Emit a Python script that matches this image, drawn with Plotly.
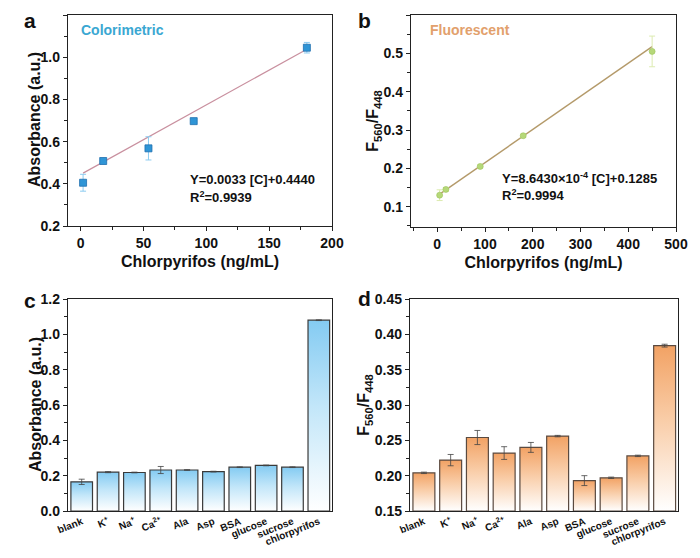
import plotly.graph_objects as go

# ---- data ----
conc_a = [2, 18, 54, 90, 180]
abs_a = [0.405, 0.508, 0.568, 0.697, 1.045]
err_a = [0.040, 0.008, 0.055, 0.006, 0.025]
slope_a, icpt_a = 0.0033, 0.4440

conc_b = [5, 18, 90, 180, 450]
ratio_b = [0.130, 0.145, 0.205, 0.285, 0.505]
err_b = [0.014, 0.005, 0.004, 0.004, 0.040]
slope_b, icpt_b = 8.6430e-4, 0.1285

cats = ["blank", "K<sup>+</sup>", "Na<sup>+</sup>", "Ca<sup>2+</sup>", "Ala", "Asp",
        "BSA", "glucose", "sucrose", "chlorpyrifos"]
abs_c = [0.165, 0.220, 0.218, 0.232, 0.232, 0.223, 0.248, 0.258, 0.248, 1.080]
err_c = [0.015, 0.003, 0.002, 0.020, 0.002, 0.002, 0.002, 0.002, 0.002, 0.002]
ratio_d = [0.204, 0.222, 0.254, 0.232, 0.240, 0.256, 0.193, 0.197, 0.228, 0.384]
err_d = [0.001, 0.008, 0.010, 0.009, 0.007, 0.001, 0.007, 0.001, 0.001, 0.002]

FONT = "Arial, Liberation Sans, sans-serif"
OFF = 8                      # default page body margin
W, H = 700 - 2 * OFF, 558 - 2 * OFF

def dom_x(a, b):
    return [(a - OFF) / W, (b - OFF) / W]

def dom_y(top, bot):
    return [1 - (bot - OFF) / H, 1 - (top - OFF) / H]

fig = go.Figure()

# ---- panel a ----
fig.add_trace(go.Scatter(x=[conc_a[0], conc_a[-1]],
                         y=[slope_a * conc_a[0] + icpt_a, slope_a * conc_a[-1] + icpt_a],
                         mode="lines", line=dict(color="#c9909f", width=1.2),
                         xaxis="x", yaxis="y", showlegend=False))
fig.add_trace(go.Scatter(x=conc_a, y=abs_a, mode="markers",
                         marker=dict(symbol="square", size=7, color="#2f95d6",
                                     line=dict(color="#1f6fae", width=0.8)),
                         error_y=dict(type="data", array=err_a, color="#8ccbf0",
                                      thickness=1, width=3),
                         xaxis="x", yaxis="y", showlegend=False))

# ---- panel b ----
fig.add_trace(go.Scatter(x=[conc_b[0], conc_b[-1]],
                         y=[slope_b * conc_b[0] + icpt_b, slope_b * conc_b[-1] + icpt_b],
                         mode="lines", line=dict(color="#b49a6a", width=1.4),
                         xaxis="x2", yaxis="y2", showlegend=False))
fig.add_trace(go.Scatter(x=conc_b, y=ratio_b, mode="markers",
                         marker=dict(symbol="circle", size=6, color="#b6d879",
                                     line=dict(color="#9cc45a", width=0.6)),
                         error_y=dict(type="data", array=err_b, color="#dcebb0",
                                      thickness=1, width=3),
                         xaxis="x2", yaxis="y2", showlegend=False))

# ---- bars (c, d) with vertical gradients ----
HW = 0.41

def add_bars(vals, errs, base, top_color, xa, ya, edge):
    for i, v in enumerate(vals):
        fig.add_trace(go.Scatter(
            x=[i - HW, i + HW, i + HW, i - HW, i - HW],
            y=[base, base, v, v, base],
            mode="lines", fill="toself",
            line=dict(color=edge, width=1.2),
            fillgradient=dict(type="vertical",
                              colorscale=[[0, "rgba(255,255,255,1)"], [0.55, top_color[1]], [1, top_color[0]]],
                              start=base, stop=v),
            xaxis=xa, yaxis=ya, showlegend=False, hoverinfo="skip"))
    fig.add_trace(go.Scatter(x=list(range(len(vals))), y=vals, mode="markers",
                             marker=dict(size=1, color="rgba(0,0,0,0)"),
                             error_y=dict(type="data", array=errs, color="#444444",
                                          thickness=0.8, width=3),
                             xaxis=xa, yaxis=ya, showlegend=False))

add_bars(abs_c, err_c, 0.0, ("#84cbf2", "#c2e6f9"), "x3", "y3", "#3a3a3a")
add_bars(ratio_d, err_d, 0.15, ("#f2a264", "#f9cda8"), "x4", "y4", "#5a4a40")

axis_common = dict(showline=True, linecolor="#222222", linewidth=1.3, mirror=True,
                   showgrid=False, zeroline=False, automargin=False,
                   tickfont=dict(family=FONT, size=14, color="#111111", weight="bold"),
                   ticks="outside", ticklen=4, tickwidth=1, tickcolor="#222222")
title_font = dict(family=FONT, size=16, color="#111111", weight="bold")

def xt(text, standoff=6):
    return dict(text=text, font=title_font, standoff=standoff)

minor_c = dict(ticks="outside", ticklen=2.5, tickcolor="#222222")
cat_font = dict(family=FONT, size=10, color="#111111", weight="bold")
ratio_title = "F<sub>560</sub>/F<sub>448</sub>"

layout = dict(
    width=W, height=H, margin=dict(l=0, r=0, t=0, b=0),
    plot_bgcolor="white", paper_bgcolor="white", showlegend=False,
    xaxis=dict(**axis_common, domain=dom_x(68, 332), anchor="y", range=[-10, 200],
               dtick=50, tick0=0, minor=dict(dtick=25, **minor_c),
               title=xt("Chlorpyrifos (ng/mL)", 5)),
    yaxis=dict(**axis_common, domain=dom_y(15, 226), anchor="x", range=[0.2, 1.2],
               dtick=0.2, tick0=0.2, tickformat=".1f",
               minor=dict(dtick=0.1, **minor_c)),
    xaxis2=dict(**axis_common, domain=dom_x(411, 676), anchor="y2", range=[-55, 500],
                dtick=100, tick0=0, minor=dict(dtick=50, **minor_c),
                title=xt("Chlorpyrifos (ng/mL)", 5)),
    yaxis2=dict(**axis_common, domain=dom_y(15, 227), anchor="x2", range=[0.047, 0.6],
                dtick=0.1, tick0=0.1, tickformat=".1f",
                minor=dict(dtick=0.05, **minor_c),
                title=xt(ratio_title, 0)),
    xaxis3=dict(**{**axis_common, "ticks": "", "tickfont": cat_font},
                domain=dom_x(68, 332), anchor="y3", range=[-0.52, 9.5],
                tickvals=list(range(len(cats))), ticktext=cats, tickangle=-22),
    yaxis3=dict(**axis_common, domain=dom_y(299, 511), anchor="x3", range=[0, 1.2],
                dtick=0.2, tick0=0, tickformat=".1f",
                minor=dict(dtick=0.1, **minor_c)),
    xaxis4=dict(**{**axis_common, "ticks": "", "tickfont": cat_font},
                domain=dom_x(410, 678), anchor="y4", range=[-0.52, 9.5],
                tickvals=list(range(len(cats))), ticktext=cats, tickangle=-22),
    yaxis4=dict(**axis_common, domain=dom_y(299, 511), anchor="x4", range=[0.15, 0.45],
                dtick=0.05, tick0=0.15, tickformat=".2f",
                minor=dict(dtick=0.025, **minor_c),
                title=xt(ratio_title, 0)),
)
fig.update_layout(**layout)

def ann(x, y, text, size=13, color="#111111", xanchor="left", angle=0):
    fig.add_annotation(x=(x - OFF) / W, y=1 - (y - OFF) / H, xref="paper", yref="paper", text=text,
                       showarrow=False, xanchor=xanchor, yanchor="middle", align="left",
                       textangle=angle,
                       font=dict(family=FONT, size=size, color=color, weight="bold"))

# y-axis titles (absorbance)
ann(35, 120, "Absorbance (a.u.)", size=16, xanchor="center", angle=-90)
ann(35, 405, "Absorbance (a.u.)", size=16, xanchor="center", angle=-90)

# panel letters
ann(22, 20, "a", size=21)
ann(356, 20, "b", size=21)
ann(22, 300, "c", size=21)
ann(356, 298, "d", size=21)

# labels inside panels
ann(79, 30, "Colorimetric", size=14, color="#3aa7d2")
ann(428, 30, "Fluorescent", size=14, color="#e2a06c")
ann(188, 180, "Y=0.0033 [C]+0.4440", size=13)
ann(188, 197, "R<sup>2</sup>=0.9939", size=13)
ann(500, 178, "Y=8.6430×10<sup>-4</sup> [C]+0.1285", size=13)
ann(500, 195, "R<sup>2</sup>=0.9994", size=13)

fig.write_html("out.html")
